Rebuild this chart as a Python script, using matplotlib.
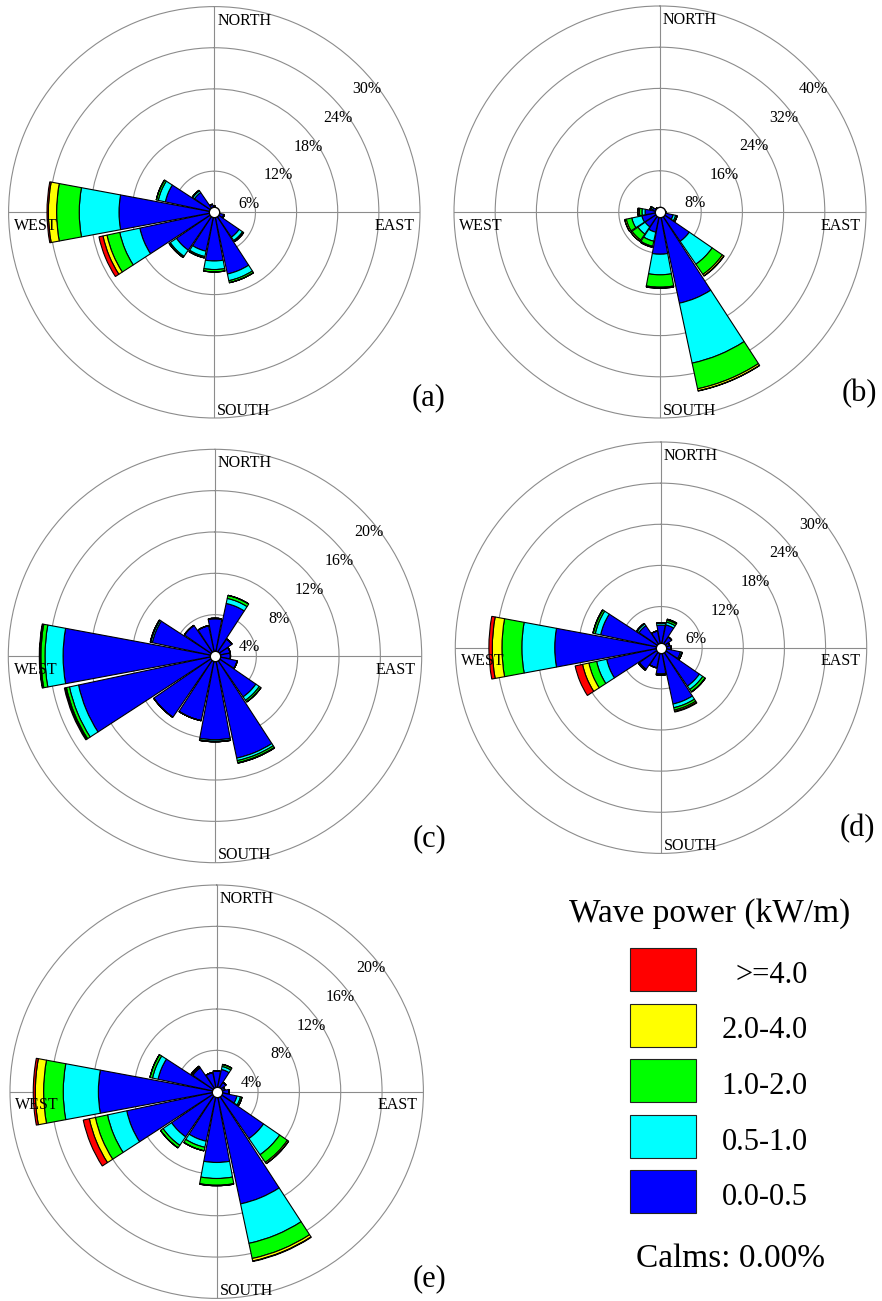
import numpy as np
import matplotlib.pyplot as plt
from matplotlib.patches import Rectangle
from matplotlib import transforms

plt.rcParams['font.family'] = ['Liberation Serif', 'DejaVu Serif']

W_PX, H_PX = 882, 1301

# 16 compass sectors, clockwise from north
directions = ['N', 'NNE', 'NE', 'ENE', 'E', 'ESE', 'SE', 'SSE',
              'S', 'SSW', 'SW', 'WSW', 'W', 'WNW', 'NW', 'NNW']
bin_labels = ['0.0-0.5', '0.5-1.0', '1.0-2.0', '2.0-4.0', '>=4.0']
bin_colors = ['#0000ff', '#00ffff', '#00ff00', '#ffff00', '#ff0000']

# --- frequencies (%) per sector, one list per wave power class ---
# (a)
a_0_05 = [0.9, 0.4, 0.3, 0.3, 0.7, 1.4, 4.4, 9.2, 7.1, 5.8, 6.7, 11.1, 13.9, 7.3, 3.5, 1.2]
a_05_1 = [0, 0, 0, 0, 0, 0.1, 0.6, 1.0, 1.25, 0.8, 1.1, 3.0, 5.8, 1.05, 0.3, 0]
a_1_2  = [0, 0, 0, 0, 0, 0, 0.2, 0.3, 0.35, 0.2, 0.2, 1.9, 3.3, 0.3, 0.1, 0]
a_2_4  = [0, 0, 0, 0, 0, 0, 0, 0, 0, 0, 0, 0.6, 1.2, 0, 0, 0]
a_4up  = [0, 0, 0, 0, 0, 0, 0, 0, 0, 0, 0, 0.6, 0.2, 0, 0, 0]
a_rings = [6, 12, 18, 24, 30]

# (b)
b_0_05 = [0.5, 0.4, 0.4, 0.6, 1.0, 2.6, 6.9, 18.1, 8.2, 4.0, 3.5, 3.6, 2.9, 1.5, 0.9, 0.5]
b_05_1 = [0, 0, 0, 0, 0.1, 0.5, 5.4, 11.9, 4.0, 1.8, 1.7, 2.0, 0.6, 0.3, 0.1, 0]
b_1_2  = [0, 0, 0, 0, 0, 0.3, 2.4, 5.1, 2.4, 1.0, 1.4, 1.1, 0.5, 0.2, 0, 0]
b_2_4  = [0, 0, 0, 0, 0, 0, 0.35, 0.4, 0.2, 0.2, 0.3, 0.3, 0.3, 0, 0, 0]
b_4up  = [0, 0, 0, 0, 0, 0, 0.05, 0.05, 0, 0, 0, 0, 0, 0, 0, 0]
b_rings = [8, 16, 24, 32, 40]

# (c)
c_0_05 = [3.6, 5.2, 2.0, 1.5, 1.5, 2.2, 4.8, 10.1, 8.1, 6.4, 7.2, 13.5, 14.7, 6.2, 3.6, 3.0]
c_05_1 = [0.05, 0.5, 0, 0, 0, 0, 0.4, 0.25, 0.15, 0, 0, 0.9, 1.75, 0.15, 0, 0]
c_1_2  = [0, 0.3, 0, 0, 0, 0, 0.2, 0.2, 0.05, 0, 0, 0.3, 0.4, 0.05, 0, 0]
c_2_4  = [0, 0, 0, 0, 0, 0, 0, 0.05, 0, 0, 0, 0.1, 0.1, 0, 0, 0]
c_4up  = [0, 0, 0, 0, 0, 0, 0, 0, 0, 0, 0, 0.1, 0.05, 0, 0, 0]
c_rings = [4, 8, 12, 16, 20]

# (d)
d_0_05 = [3.3, 3.4, 1.9, 1.3, 1.5, 2.9, 6.8, 8.4, 3.8, 3.0, 3.8, 8.1, 15.5, 9.0, 3.9, 2.5]
d_05_1 = [0.3, 0.4, 0, 0, 0, 0.2, 0.6, 0.55, 0.15, 0, 0.1, 1.5, 4.8, 0.8, 0.3, 0]
d_1_2  = [0.05, 0.3, 0, 0, 0, 0.05, 0.4, 0.35, 0.05, 0, 0.1, 1.15, 2.9, 0.3, 0.1, 0]
d_2_4  = [0, 0.15, 0, 0, 0, 0, 0.05, 0.2, 0, 0, 0, 0.95, 1.4, 0.05, 0, 0]
d_4up  = [0, 0, 0, 0, 0, 0, 0, 0.1, 0, 0, 0, 1.1, 0.5, 0, 0, 0]
d_rings = [6, 12, 18, 24, 30]

# (e)
e_0_05 = [2.0, 2.2, 1.1, 0.8, 1.2, 2.0, 5.5, 11.1, 6.85, 4.9, 5.3, 8.9, 11.45, 5.8, 2.8, 1.9]
e_05_1 = [0, 0.3, 0, 0, 0, 0.35, 1.9, 3.9, 1.55, 0.6, 1.0, 1.9, 3.4, 0.55, 0.1, 0]
e_1_2  = [0, 0.2, 0, 0, 0, 0.15, 0.9, 1.5, 0.65, 0.35, 0.3, 1.2, 1.9, 0.25, 0.1, 0]
e_2_4  = [0, 0, 0, 0, 0, 0, 0.15, 0.25, 0.05, 0, 0, 0.6, 0.8, 0, 0, 0]
e_4up  = [0, 0, 0, 0, 0, 0, 0, 0.05, 0, 0, 0, 0.6, 0.2, 0, 0, 0]
e_rings = [4, 8, 12, 16, 20]

GRID = '#8c8c8c'

fig = plt.figure(figsize=(W_PX / 100, H_PX / 100), dpi=100)

# background axes in pixel units for the legend
lax = fig.add_axes([0, 0, 1, 1], zorder=-1)
lax.set_xlim(0, W_PX)
lax.set_ylim(H_PX, 0)
lax.axis('off')


def rose(cx, cy, R, stacks, rings, letter, letter_xy):
    ax = fig.add_axes([(cx - R) / W_PX, (H_PX - cy - R) / H_PX,
                       2 * R / W_PX, 2 * R / H_PX], projection='polar')
    ax.set_theta_zero_location('N')
    ax.set_theta_direction(-1)
    theta = np.deg2rad(np.arange(len(directions)) * 22.5)
    bottom = np.zeros(len(directions))
    for vals, col in zip(stacks, bin_colors):
        vals = np.asarray(vals, dtype=float)
        ax.bar(theta, vals, width=np.deg2rad(21), bottom=bottom, color=col,
               edgecolor='black', linewidth=0.8, zorder=3)
        bottom += vals
    ax.plot([0], [0], 'o', ms=7.5, mfc='white', mec='black', mew=1.0,
            zorder=5, clip_on=False)

    ax.set_ylim(0, rings[-1])
    ax.set_yticks(rings[:-1])
    ax.set_yticklabels([])
    ax.set_xticks(np.deg2rad([0, 90, 180, 270]))
    ax.set_xticklabels([])
    ax.tick_params(length=0)
    ax.grid(True, color=GRID, linewidth=0.8)
    ax.spines['polar'].set_edgecolor(GRID)
    ax.spines['polar'].set_linewidth(0.8)

    lab_tr = transforms.offset_copy(ax.transData, fig=fig, x=5, y=-20, units='dots')
    for v in rings:
        ax.text(np.deg2rad(46), v, f'{v}%', transform=lab_tr, ha='center',
                va='center', fontsize=11.5, zorder=6)

    kw = dict(transform=ax.transAxes, fontsize=11.5, va='center')
    ax.text(0.507, 0.966, 'NORTH', ha='left', **kw)
    ax.text(0.507, 0.018, 'SOUTH', ha='left', **kw)
    ax.text(0.986, 0.467, 'EAST', ha='right', **kw)
    ax.text(0.013, 0.467, 'WEST', ha='left', **kw)

    lax.text(letter_xy[0], letter_xy[1], letter, ha='center', va='center', fontsize=22)
    return ax


rose(214.3, 212.3, 205.7, [a_0_05, a_05_1, a_1_2, a_2_4, a_4up], a_rings, '(a)', (429, 398))
rose(660.0, 212.0, 206.0, [b_0_05, b_05_1, b_1_2, b_2_4, b_4up], b_rings, '(b)', (859, 394))
rose(215.0, 656.0, 206.7, [c_0_05, c_05_1, c_1_2, c_2_4, c_4up], c_rings, '(c)', (429, 839))
rose(661.0, 647.7, 205.7, [d_0_05, d_05_1, d_1_2, d_2_4, d_4up], d_rings, '(d)', (857, 829))
rose(216.7, 1091.7, 206.7, [e_0_05, e_05_1, e_1_2, e_2_4, e_4up], e_rings, '(e)', (429, 1279))

# --- legend ---
lax.text(710, 914, 'Wave power (kW/m)', ha='center', va='center', fontsize=24)
for i, (lab, col) in enumerate(zip(bin_labels[::-1], bin_colors[::-1])):
    top = 948 + i * 55.5
    lax.add_patch(Rectangle((630, top), 66, 43, facecolor=col,
                            edgecolor='#222222', linewidth=0.8))
    lax.text(808, top + 27.5, lab, ha='right', va='center', fontsize=22)
lax.text(731, 1259, 'Calms: 0.00%', ha='center', va='center', fontsize=24)

fig.savefig('out.png', dpi=100)
